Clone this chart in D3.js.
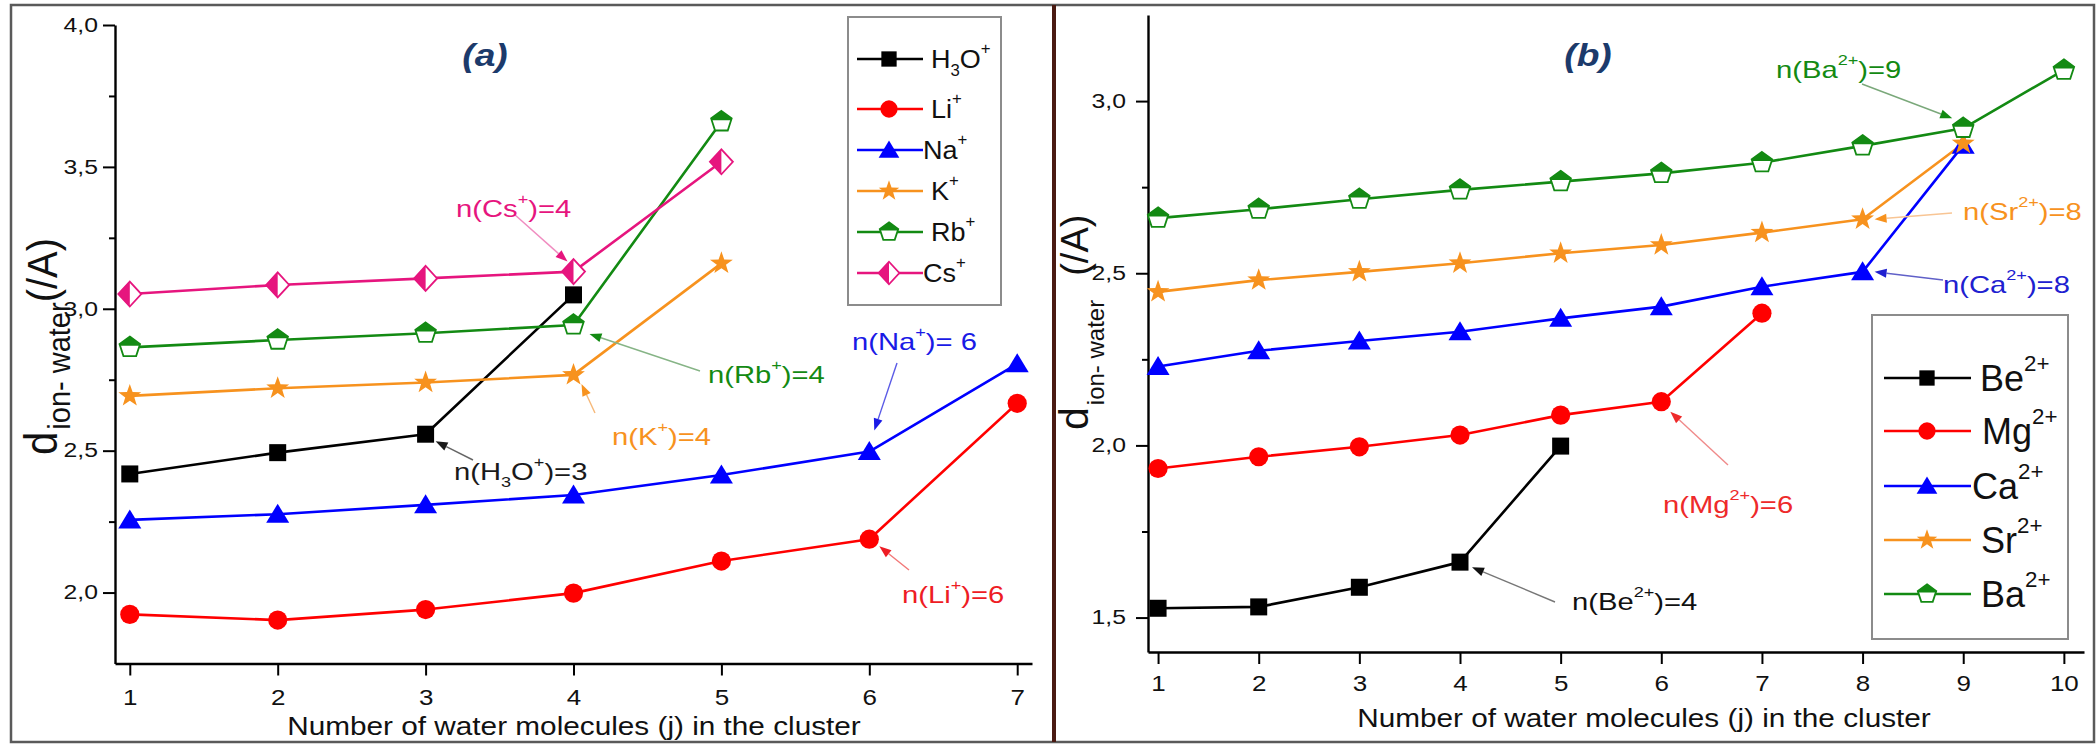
<!DOCTYPE html>
<html><head><meta charset="utf-8">
<script src="https://cdn.jsdelivr.net/npm/d3@7"></script>
<style>
body{margin:0;background:#fff}
svg{display:block}
text{font-family:"Liberation Sans",Arial,Helvetica,sans-serif}
</style>
</head><body>
<svg id="c" width="2096" height="744"></svg>
<script>
// ---------------- DATA ----------------
const jA = [1, 2, 3, 4, 5, 6, 7];
const h3o = [2.418, 2.493, 2.558, 3.049];
const li  = [1.923, 1.903, 1.940, 1.998, 2.111, 2.188, 2.667];
const na  = [2.256, 2.276, 2.309, 2.344, 2.414, 2.497, 2.806];
const kk  = [2.693, 2.720, 2.740, 2.767, 3.160];
const rb  = [2.864, 2.890, 2.914, 2.943, 3.659];
const cs  = [3.052, 3.084, 3.107, 3.131, 3.518];

const jB = [1, 2, 3, 4, 5, 6, 7, 8, 9, 10];
const be = [1.527, 1.531, 1.588, 1.661, 1.998];
const mg = [1.933, 1.967, 1.996, 2.030, 2.088, 2.127, 2.384];
const ca = [2.229, 2.275, 2.303, 2.330, 2.369, 2.403, 2.461, 2.504, 2.872];
const sr = [2.446, 2.480, 2.504, 2.529, 2.558, 2.582, 2.618, 2.657, 2.877];
const ba = [2.660, 2.686, 2.715, 2.742, 2.766, 2.790, 2.821, 2.870, 2.921, 3.090];

const yTicksA = [2.0, 2.5, 3.0, 3.5, 4.0];
const yMinorA = [2.25, 2.75, 3.25, 3.75];
const yTicksB = [1.5, 2.0, 2.5, 3.0];
const yMinorB = [1.75, 2.25, 2.75];
const xTitle = "Number of water molecules (j) in the cluster";

// ---------------- STYLE ----------------
const C = {black:"#000000", red:"#ff0000", blue:"#0000ff", orange:"#f7921e", green:"#138a13", pink:"#e6157e"};
const svg = d3.select("#c");

function rich(textSel, parts, fs){
  let shift = 0;
  parts.forEach(([s, kind]) => {
    const target = kind === "sup" ? -0.55*fs : kind === "sub" ? 0.3*fs : 0;
    const ts = textSel.append("tspan").attr("dy", target - shift).text(s);
    if (kind) ts.attr("font-size", 0.62*fs);
    shift = target;
  });
}

function starPath(R, r){
  const pts = [];
  for (let i = 0; i < 10; i++){
    const a = -Math.PI/2 + i*Math.PI/5, rr = i % 2 ? r : R;
    pts.push([rr*Math.cos(a), rr*Math.sin(a)]);
  }
  return "M" + pts.map(p => p.join(",")).join("L") + "Z";
}

function marker(g, sym, color, s){
  if (sym === "square"){
    g.append("rect").attr("x", -8.5*s).attr("y", -8.5*s).attr("width", 17*s).attr("height", 17*s).attr("fill", color);
  } else if (sym === "circle"){
    g.append("circle").attr("r", 9.6*s).attr("fill", color);
  } else if (sym === "triangle"){
    g.append("path").attr("d", `M0,${-10.5*s}L${11.5*s},${8.5*s}L${-11.5*s},${8.5*s}Z`).attr("fill", color);
  } else if (sym === "star"){
    g.append("path").attr("d", starPath(12*s, 4.8*s)).attr("fill", color);
  } else if (sym === "pentagon"){
    const R = 10.8*s;
    const P = [];
    for (let i = 0; i < 5; i++){ const a = -Math.PI/2 + i*2*Math.PI/5; P.push([R*Math.cos(a), R*Math.sin(a)]); }
    g.append("path").attr("d", "M" + P.map(p => p.join(",")).join("L") + "Z")
      .attr("fill", "#fff").attr("stroke", color).attr("stroke-width", 1.8);
    const cy = -0.15*R, cx = 0.90*R;
    g.append("path").attr("d", `M0,${-R}L${0.951*R},${-0.309*R}L${cx},${cy}L${-cx},${cy}L${-0.951*R},${-0.309*R}Z`).attr("fill", color);
  } else if (sym === "diamond"){
    const w = 11.5*s, h = 12.5*s;
    g.append("path").attr("d", `M0,${-h}L${w},0L0,${h}L${-w},0Z`).attr("fill", "#fff").attr("stroke", color).attr("stroke-width", 1.8);
    g.append("path").attr("d", `M0,${-h}L${-w},0L0,${h}Z`).attr("fill", color);
  }
}

function arrow(g, x1, y1, x2, y2, lineColor, headColor){
  const dx = x2 - x1, dy = y2 - y1, L = Math.hypot(dx, dy), ux = dx/L, uy = dy/L;
  const hl = 12, hw = 4.5;
  const bx = x2 - ux*hl, by = y2 - uy*hl;
  g.append("line").attr("x1", x1).attr("y1", y1).attr("x2", bx).attr("y2", by)
    .attr("stroke", lineColor).attr("stroke-width", 1.4);
  g.append("path").attr("d", `M${x2},${y2}L${bx - uy*hw},${by + ux*hw}L${bx + uy*hw},${by - ux*hw}Z`).attr("fill", headColor);
}

// ---------------- PANEL CONFIGS ----------------
const panels = [
  {
    xDomain:[0.9, 7.1], xRange:[115, 1032], yDomain:[1.75, 4.0], yRange:[663.5, 25],
    xTicks: jA, yTicks: yTicksA, yMinor: yMinorA, yLabGap: 17, xLabPad: 14,
    xTitleX: 574, xTitleY: 735,
    title: "(a)", titleX: 485, titleY: 66,
    ylab: {x: 57, y: 455, dFs: 42, subFs: 29, subDy: 12, unitFs: 40, unitDx: 0, sx: 1.08},
    series: [
      {name:[["H"],["3","sub"],["O"],["+","sup"]], j: jA, v: h3o, color: C.black, sym:"square"},
      {name:[["Li"],["+","sup"]], j: jA, v: li, color: C.red, sym:"circle"},
      {name:[["Na"],["+","sup"]], j: jA, v: na, color: C.blue, sym:"triangle"},
      {name:[["K"],["+","sup"]], j: jA, v: kk, color: C.orange, sym:"star"},
      {name:[["Rb"],["+","sup"]], j: jA, v: rb, color: C.green, sym:"pentagon"},
      {name:[["Cs"],["+","sup"]], j: jA, v: cs, color: C.pink, sym:"diamond"}
    ],
    legend: {box:[848, 17, 153, 288], rows:[59, 109, 150, 191, 232, 273], line:[857, 923], mx: 889,
             tx:[931, 931, 923, 931, 931, 923], fs: 25.5, sx: 1.06, ms: 0.9},
    notes: [
      {parts:[["n(Cs"],["+","sup"],[")=4"]], color:C.pink, line:"#f08cc0", tx:456, ty:217, from:[514, 214], s:5, i:3, off:[-6,-10]},
      {parts:[["n(Rb"],["+","sup"],[")=4"]], color:C.green, line:"#86b486", tx:708, ty:383, from:[700, 371], s:4, i:3, off:[16, 9]},
      {parts:[["n(Na"],["+","sup"],[")= 6"]], color:"#1a1ae6", line:"#5a5ae6", tx:852, ty:350, from:[897, 363], s:2, i:5, off:[5,-21]},
      {parts:[["n(K"],["+","sup"],[")=4"]], color:C.orange, line:"#f6b878", tx:612, ty:445, from:[595, 413], s:3, i:3, off:[8, 9]},
      {parts:[["n(H"],["3","sub"],["O"],["+","sup"],[")=3"]], color:"#1a1a1a", line:"#666", tx:454, ty:480, from:[473, 460], s:0, i:2, off:[10, 7]},
      {parts:[["n(Li"],["+","sup"],[")=6"]], color:"#ee1c24", line:"#f27878", tx:902, ty:603, from:[909, 570], s:1, i:5, off:[10, 7]}
    ]
  },
  {
    xDomain:[0.9, 10.2], xRange:[1148, 2084], yDomain:[1.4, 3.25], yRange:[652, 15],
    xTicks: jB, yTicks: yTicksB, yMinor: yMinorB, yLabGap: 22, xLabPad: 11,
    xTitleX: 1644, xTitleY: 727,
    title: "(b)", titleX: 1588, titleY: 66,
    ylab: {x: 1088, y: 430, dFs: 41, subFs: 24, subDy: 16, unitFs: 38, unitDx: 24, sx: 1.0},
    series: [
      {name:[["Be"],["2+","sup"]], j: jB, v: be, color: C.black, sym:"square"},
      {name:[["Mg"],["2+","sup"]], j: jB, v: mg, color: C.red, sym:"circle"},
      {name:[["Ca"],["2+","sup"]], j: jB, v: ca, color: C.blue, sym:"triangle"},
      {name:[["Sr"],["2+","sup"]], j: jB, v: sr, color: C.orange, sym:"star"},
      {name:[["Ba"],["2+","sup"]], j: jB, v: ba, color: C.green, sym:"pentagon"}
    ],
    legend: {box:[1872, 315, 196, 324], rows:[378, 431, 486, 540, 594], line:[1884, 1971], mx: 1927,
             tx:[1980, 1982, 1972, 1981, 1981], fs: 36, sx: 1.0, ms: 0.9},
    notes: [
      {parts:[["n(Ba"],["2+","sup"],[")=9"]], color:C.green, line:"#7aa87a", tx:1776, ty:78, from:[1862, 84], s:4, i:8, off:[-11,-10]},
      {parts:[["n(Sr"],["2+","sup"],[")=8"]], color:C.orange, line:"#f8c594", tx:1963, ty:220, from:[1952, 213], s:3, i:7, off:[12, 0]},
      {parts:[["n(Ca"],["2+","sup"],[")=8"]], color:"#2020d0", line:"#6060c8", tx:1943, ty:293, from:[1943, 280], s:2, i:7, off:[12, 0]},
      {parts:[["n(Mg"],["2+","sup"],[")=6"]], color:"#ee2a2a", line:"#f08a8a", tx:1663, ty:513, from:[1728, 465], s:1, i:5, off:[9, 10]},
      {parts:[["n(Be"],["2+","sup"],[")=4"]], color:"#111", line:"#777", tx:1572, ty:610, from:[1555, 602], s:0, i:3, off:[12, 5]}
    ]
  }
];

// ---------------- FRAME ----------------
svg.append("rect").attr("width", 2096).attr("height", 744).attr("fill", "#fff");
svg.append("rect").attr("x", 11).attr("y", 5).attr("width", 2083).attr("height", 737)
  .attr("fill", "none").attr("stroke", "#5a5a5a").attr("stroke-width", 2.5);
svg.append("line").attr("x1", 1054).attr("x2", 1054).attr("y1", 5).attr("y2", 742)
  .attr("stroke", "#4a1a12").attr("stroke-width", 4);

// ---------------- DRAW PANELS ----------------
panels.forEach(P => {
  const g = svg.append("g");
  const x = d3.scaleLinear().domain(P.xDomain).range(P.xRange);
  const y = d3.scaleLinear().domain(P.yDomain).range(P.yRange);
  const fmt = d => d3.format(".1f")(d).replace(".", ",");

  // x axis
  const gx = g.append("g").attr("transform", `translate(0,${P.yRange[0]})`)
    .call(d3.axisBottom(x).tickValues(P.xTicks).tickSize(12).tickSizeOuter(0).tickPadding(P.xLabPad).tickFormat(d3.format("d")));
  gx.select(".domain").attr("stroke-width", 2.4);
  gx.selectAll(".tick line").attr("stroke-width", 2);
  gx.selectAll(".tick text").attr("font-size", 22).attr("font-family", '"Liberation Sans",Arial,sans-serif')
    .attr("fill", "#111").attr("transform", "scale(1.18,1)");

  // y axis
  const gy = g.append("g").attr("transform", `translate(${P.xRange[0]},0)`)
    .call(d3.axisLeft(y).tickValues(P.yTicks).tickSize(12).tickSizeOuter(0).tickFormat(fmt));
  gy.select(".domain").attr("stroke-width", 2.4);
  gy.selectAll(".tick line").attr("stroke-width", 2);
  gy.selectAll(".tick text").attr("font-size", 19.5).attr("font-family", '"Liberation Sans",Arial,sans-serif')
    .attr("fill", "#111").attr("x", -P.yLabGap/1.27).attr("transform", "scale(1.27,1)");
  const gm = g.append("g").attr("transform", `translate(${P.xRange[0]},0)`)
    .call(d3.axisLeft(y).tickValues(P.yMinor).tickSize(6).tickSizeOuter(0).tickFormat(""));
  gm.select(".domain").remove();
  gm.selectAll(".tick line").attr("stroke-width", 2);

  // x title
  g.append("text").attr("transform", `translate(${P.xTitleX},${P.xTitleY}) scale(1.19,1)`)
    .attr("text-anchor", "middle").attr("font-size", 25).attr("fill", "#111").text(xTitle);

  // y label
  const L = P.ylab;
  const yt = g.append("text").attr("transform", `translate(${L.x},${L.y}) scale(${L.sx},1) rotate(-90)`).attr("fill", "#111");
  yt.append("tspan").attr("font-size", L.dFs).text("d");
  yt.append("tspan").attr("font-size", L.subFs).attr("dy", L.subDy).attr("dx", 2).text("ion- water");
  yt.append("tspan").attr("font-size", L.unitFs).attr("dy", -L.subDy).attr("dx", L.unitDx).text("(/A)");

  // title
  g.append("text").attr("transform", `translate(${P.titleX},${P.titleY}) scale(1.2,1)`)
    .attr("text-anchor", "middle").attr("font-size", 31).attr("font-weight", "bold").attr("font-style", "italic")
    .attr("fill", "#1c3a6b").text(P.title);

  // series lines
  P.series.forEach(S => {
    const pts = S.v.map((v, i) => [x(S.j[i]), y(v)]);
    g.append("path").attr("d", d3.line()(pts)).attr("fill", "none")
      .attr("stroke", S.color).attr("stroke-width", 2.6).attr("stroke-linejoin", "round");
  });
  // markers
  P.series.forEach(S => {
    S.v.forEach((v, i) => {
      const mg_ = g.append("g").attr("transform", `translate(${x(S.j[i])},${y(v)})`);
      marker(mg_, S.sym, S.color, 1);
    });
  });

  // annotations
  P.notes.forEach(N => {
    const S = P.series[N.s];
    const tx = x(S.j[N.i]) + N.off[0], ty = y(S.v[N.i]) + N.off[1];
    arrow(g, N.from[0], N.from[1], tx, ty, N.line, N.color);
    const t = g.append("text").attr("transform", `translate(${N.tx},${N.ty}) scale(1.27,1)`)
      .attr("font-size", 23).attr("fill", N.color);
    rich(t, N.parts, 23);
  });

  // legend
  const Lg = P.legend;
  g.append("rect").attr("x", Lg.box[0]).attr("y", Lg.box[1]).attr("width", Lg.box[2]).attr("height", Lg.box[3])
    .attr("fill", "#fff").attr("stroke", "#8c8c8c").attr("stroke-width", 2);
  P.series.forEach((S, k) => {
    const ry = Lg.rows[k];
    g.append("line").attr("x1", Lg.line[0]).attr("x2", Lg.line[1]).attr("y1", ry).attr("y2", ry)
      .attr("stroke", S.color).attr("stroke-width", 2.4);
    marker(g.append("g").attr("transform", `translate(${Lg.mx},${ry})`), S.sym, S.color, Lg.ms);
    const t = g.append("text").attr("transform", `translate(${Lg.tx[k]},${ry + Lg.fs*0.36}) scale(${Lg.sx},1)`)
      .attr("font-size", Lg.fs).attr("fill", "#111");
    rich(t, S.name, Lg.fs);
  });
});
</script>
</body></html>
